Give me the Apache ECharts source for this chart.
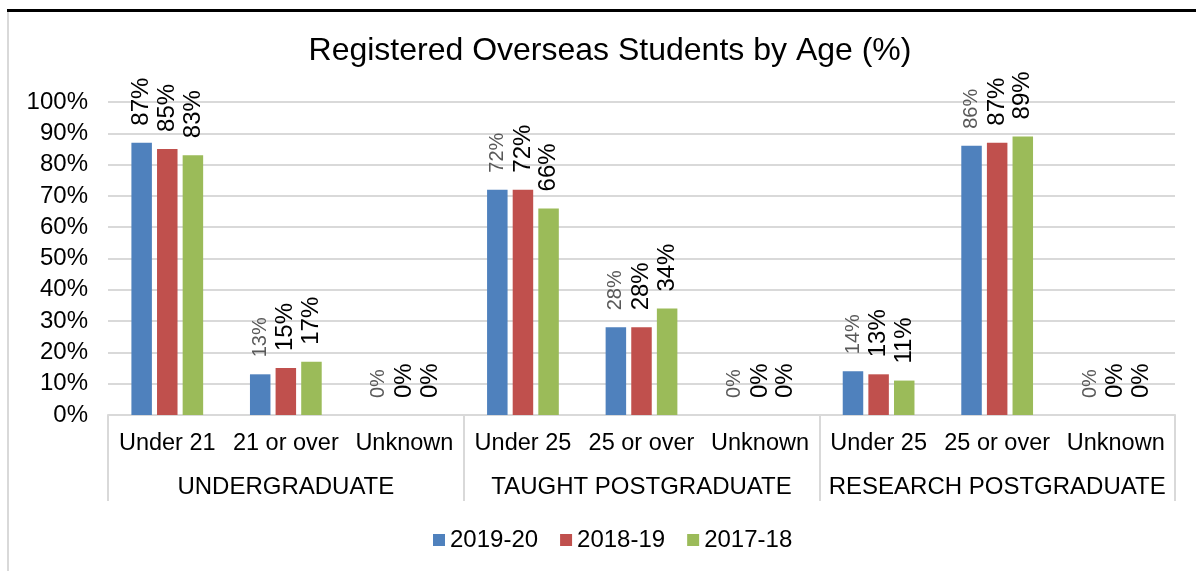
<!DOCTYPE html>
<html>
<head>
<meta charset="utf-8">
<script src="https://cdn.jsdelivr.net/npm/echarts@6/dist/echarts.min.js"></script>
<style>
  html, body { margin: 0; padding: 0; background: #fff; }
  #main { width: 1196px; height: 571px; }
</style>
</head>
<body>
<div id="main"></div>
<script>
// age bands (sub categories) and their study levels
const ageBands = ['Under 21', '21 or over', 'Unknown', 'Under 25', '25 or over', 'Unknown', 'Under 25', '25 or over', 'Unknown']
const levels = ['UNDERGRADUATE', 'TAUGHT POSTGRADUATE', 'RESEARCH POSTGRADUATE']
const years = ['2019-20', '2018-19', '2017-18']
// percentages
const y2019 = [87, 13, 0, 72, 28, 0, 14, 86, 0]
const y2018 = [85, 15, 0, 72, 28, 0, 13, 87, 0]
const y2017 = [83, 17, 0, 66, 34, 0, 11, 89, 0]
const colors = ['#4F81BD', '#C0504D', '#9BBB59']

const font = 'Liberation Sans, Arial, sans-serif'
const chart = echarts.init(document.getElementById('main'))

const baseLabel = {
  show: true,
  position: 'top',
  rotate: 90,
  align: 'left',
  verticalAlign: 'middle',
  distance: 17,
  fontFamily: font,
  fontSize: 24,
  color: '#000',
  formatter: '{c}%'
}

const mkSeries = (name, vals, i) => ({
  name: name,
  type: 'bar',
  xAxisIndex: 0,
  barWidth: 20.5,
  barGap: '25%',
  itemStyle: { color: colors[i] },
  label: baseLabel,
  data: vals
})

const s0 = mkSeries(years[0], y2019, 0)
// 2019-20 labels are smaller and grey, except the first one
s0.label = Object.assign({}, baseLabel, { color: '#595959', fontSize: 20 })
s0.data = y2019.map((v, i) => i === 0 ? { value: v, label: { color: '#000', fontSize: 24 } } : v)

chart.setOption({
  animation: false,
  title: {
    text: 'Registered Overseas Students by Age (%)',
    left: 605,
    top: 30,
    textAlign: 'center',
    textStyle: { fontFamily: font, fontSize: 32, fontWeight: 'normal', color: '#000' }
  },
  legend: {
    data: years,
    left: 428,
    top: 523,
    icon: 'rect',
    itemWidth: 12,
    itemHeight: 12,
    itemGap: 22,
    textStyle: { fontFamily: font, fontSize: 24, color: '#000' }
  },
  grid: { left: 108, right: 21, top: 102, bottom: 156 },
  xAxis: [
    {
      type: 'category',
      data: ageBands,
      axisLine: { lineStyle: { color: '#d9d9d9', width: 2 } },
      axisTick: { show: false },
      axisLabel: { interval: 0, margin: 17, fontFamily: font, fontSize: 23.5, color: '#000' }
    },
    {
      type: 'category',
      position: 'bottom',
      data: levels,
      axisLine: { show: false },
      axisTick: { show: true, length: 86, lineStyle: { color: '#d9d9d9', width: 2 } },
      axisLabel: { interval: 0, margin: 60, fontFamily: font, fontSize: 24, color: '#000' }
    }
  ],
  yAxis: {
    type: 'value',
    min: 0,
    max: 100,
    interval: 10,
    axisLine: { show: false },
    axisTick: { show: false },
    splitLine: { lineStyle: { color: '#d9d9d9', width: 2 } },
    axisLabel: { margin: 20, formatter: '{value}%', fontFamily: font, fontSize: 24, color: '#000' }
  },
  graphic: [
    { type: 'rect', shape: { x: 7, y: 9, width: 1189, height: 3 }, style: { fill: '#000' } },
    { type: 'rect', shape: { x: 7, y: 12, width: 2, height: 560 }, style: { fill: '#d9d9d9' } }
  ],
  series: [s0, mkSeries(years[1], y2018, 1), mkSeries(years[2], y2017, 2)]
})
</script>
</body>
</html>
